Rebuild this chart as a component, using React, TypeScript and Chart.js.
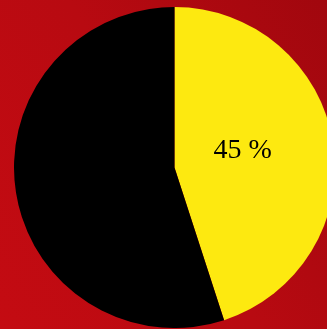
import React, { useEffect, useRef } from "react";
import { Chart, registerables } from "chart.js";

Chart.register(...registerables);

const categories = ["Yes", "No"];
const values = [45, 55];
const colors = ["#fde910", "#000000"];
const labelText = ["45 %", ""];

const labelPlugin = {
  id: "sliceLabel",
  afterDatasetsDraw(chart: any) {
    const ctx = chart.ctx;
    const meta = chart.getDatasetMeta(0);
    meta.data.forEach((arc: any, i: number) => {
      const t = labelText[i];
      if (!t) return;
      const p = arc.getProps(["x", "y", "startAngle", "endAngle", "outerRadius"], true);
      const mid = (p.startAngle + p.endAngle) / 2;
      const r = p.outerRadius * 0.43;
      const x = p.x + Math.cos(mid) * r;
      const y = p.y + Math.sin(mid) * r - 6;
      ctx.save();
      ctx.font = "28px 'Liberation Serif', serif";
      ctx.fillStyle = "#000";
      ctx.textAlign = "center";
      ctx.textBaseline = "middle";
      ctx.fillText(t, x, y);
      ctx.restore();
    });
  },
};

export default function App() {
  const ref = useRef<HTMLCanvasElement>(null);
  useEffect(() => {
    if (!ref.current) return;
    const chart = new Chart(ref.current, {
      type: "pie",
      data: {
        labels: categories,
        datasets: [
          {
            data: values,
            backgroundColor: colors,
            borderWidth: 0,
          },
        ],
      },
      options: {
        responsive: false,
        animation: false,
        layout: { padding: 0 },
        plugins: {
          legend: { display: false },
          tooltip: { enabled: false },
        },
      },
      plugins: [labelPlugin],
    });
    return () => chart.destroy();
  }, []);
  return (
    <div
      style={{
        position: "fixed",
        left: 0,
        top: 0,
        width: 327,
        height: 329,
        overflow: "hidden",
        background: "linear-gradient(60deg, #c40b12 0%, #b80a11 50%, #a1070e 100%)",
      }}
    >
      <canvas
        ref={ref}
        width={321}
        height={321}
        style={{ position: "absolute", left: 13.5, top: 7, width: 321, height: 321 }}
      />
    </div>
  );
}
